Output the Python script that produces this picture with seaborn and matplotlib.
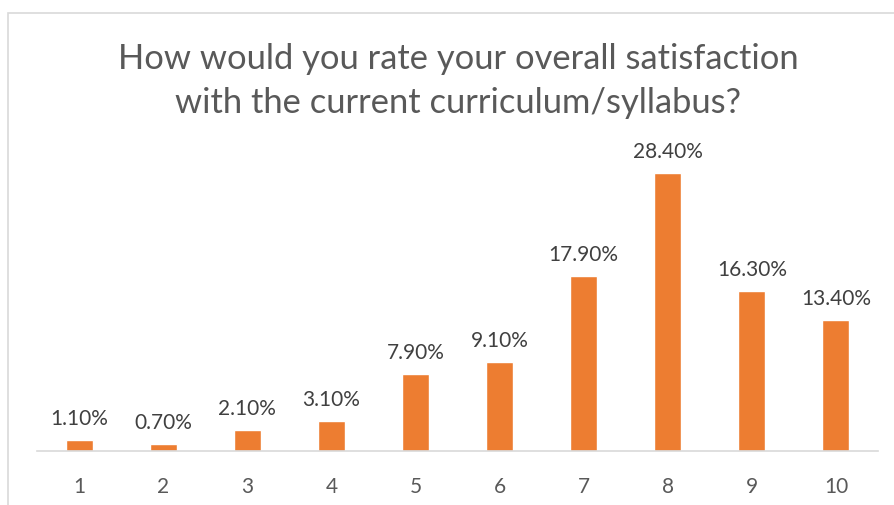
import matplotlib
matplotlib.use("Agg")
import matplotlib.pyplot as plt
import seaborn as sns
import pandas as pd
from matplotlib.patches import Rectangle

ratings = ["1", "2", "3", "4", "5", "6", "7", "8", "9", "10"]
percent = [1.1, 0.7, 2.1, 3.1, 7.9, 9.1, 17.9, 28.4, 16.3, 13.4]
title = "How would you rate your overall satisfaction\nwith the current curriculum/syllabus?"

sns.set_style("white")
plt.rcParams["font.family"] = ["Lato", "DejaVu Sans"]

df = pd.DataFrame({"rating": ratings, "percent": percent})

fig = plt.figure(figsize=(8.94, 5.05), dpi=100)
# chart area border (Excel style)
fig.patches.append(Rectangle((8 / 894, -0.1), 1.2, 1 - 13 / 505 + 0.1,
                             transform=fig.transFigure, fill=False,
                             edgecolor="#d9d9d9", linewidth=1.2))

ax = fig.add_axes([37 / 894, 54 / 505, 841 / 894, 293.7 / 505])
sns.barplot(data=df, x="rating", y="percent", color="#ED7D31",
            width=0.32, saturation=1, ax=ax)

for p, v in zip(ax.patches, percent):
    ax.annotate(f"{v:.2f}%", (p.get_x() + p.get_width() / 2, p.get_height()),
                xytext=(0, 8), textcoords="offset points", ha="center",
                va="bottom", fontsize=15, color="#404040", annotation_clip=False)

ax.set_ylim(0, 30)
ax.set_xlim(-0.5, 9.5)
ax.set_xlabel("")
ax.set_ylabel("")
ax.set_yticks([])
sns.despine(ax=ax, left=True)
ax.spines["bottom"].set_color("#d9d9d9")
ax.spines["bottom"].set_linewidth(1.2)
ax.tick_params(axis="x", length=0, pad=19, labelsize=15, labelcolor="#595959")

fig.text(458 / 894, 1 - 81 / 505, title, ha="center", va="center",
         fontsize=24.8, color="#595959", linespacing=1.45)

fig.savefig("out.png", dpi=100)
